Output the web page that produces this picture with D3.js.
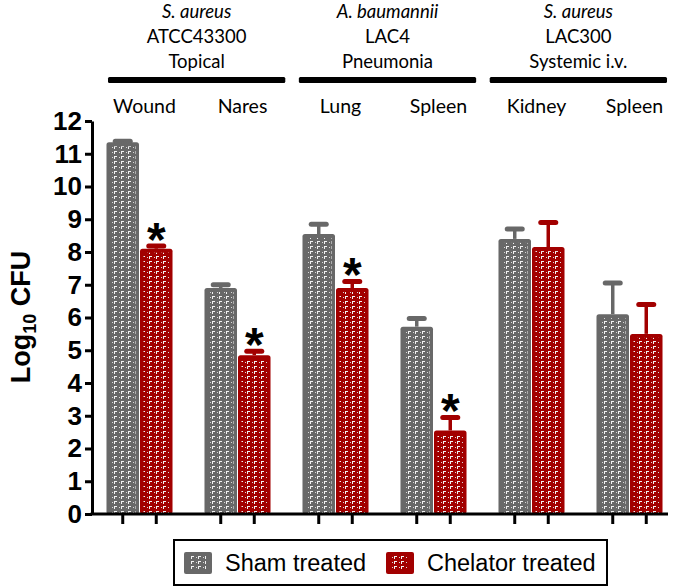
<!DOCTYPE html>
<html><head><meta charset="utf-8">
<script src="https://cdn.jsdelivr.net/npm/d3@7"></script>
<style>body{margin:0;background:#fff} svg{display:block}</style>
</head><body>
<svg id="chart" width="685" height="587"></svg>
<script>
const tissues = ["Wound", "Nares", "Lung", "Spleen", "Kidney", "Spleen"];
const shamValues = [11.35, 6.9, 8.55, 5.72, 8.4, 6.1];
const shamErrors = [0.03, 0.1, 0.3, 0.25, 0.3, 0.95];
const chelatorValues = [8.1, 4.85, 6.9, 2.55, 8.15, 5.5];
const chelatorErrors = [0.08, 0.12, 0.2, 0.4, 0.75, 0.9];
const significant = [true, true, true, true, false, false];
const groupOf = [0, 0, 1, 1, 2, 2];
const groupSpecies = ["S. aureus", "A. baumannii", "S. aureus"];
const groupStrain = ["ATCC43300", "LAC4", "LAC300"];
const groupModel = ["Topical", "Pneumonia", "Systemic i.v."];
const seriesNames = ["Sham treated", "Chelator treated"];
const yTicks = [0, 1, 2, 3, 4, 5, 6, 7, 8, 9, 10, 11, 12];

const colors = ["#686868", "#a20000"];
const svg = d3.select("#chart");

// patterns
const defs = svg.append("defs");
colors.forEach((c, i) => {
  const p = defs.append("pattern").attr("id", "pat" + i)
    .attr("patternUnits", "userSpaceOnUse").attr("width", 7).attr("height", 5);
  p.append("rect").attr("width", 7).attr("height", 5).attr("fill", c);
  p.append("rect").attr("x", 2).attr("y", 1).attr("width", 3).attr("height", 1).attr("fill", "#f2f2f2");
  p.append("rect").attr("x", 2).attr("y", 2).attr("width", 1).attr("height", 2).attr("fill", "#f2f2f2");
  p.append("rect").attr("x", 0).attr("y", 2).attr("width", 1).attr("height", 1).attr("fill", "#d8d8d8");
});

const y = d3.scaleLinear().domain([0, 12]).range([514, 121]);
const x0 = d3.scaleBand().domain(d3.range(tissues.length)).range([90.5, 678.5])
  .paddingInner(0.316).paddingOuter(0.158);
const x1 = d3.scaleBand().domain([0, 1]).range([0, x0.bandwidth()]);
const xg = d3.scaleBand().domain(d3.range(groupSpecies.length)).range([108, 667]).paddingInner(0.071);

const bars = [];
tissues.forEach((t, i) => {
  bars.push({i, s: 0, v: shamValues[i], e: shamErrors[i], sig: false});
  bars.push({i, s: 1, v: chelatorValues[i], e: chelatorErrors[i], sig: significant[i]});
});
const bx = d => x0(d.i) + x1(d.s);
const bw = x1.bandwidth();

// error bars
const eb = svg.append("g");
bars.forEach(d => {
  const cx = bx(d) + bw / 2;
  eb.append("line").attr("x1", cx).attr("x2", cx).attr("y1", y(d.v)).attr("y2", y(d.v + d.e))
    .attr("stroke", colors[d.s]).attr("stroke-width", 3.5);
  eb.append("rect").attr("x", cx - 10).attr("y", y(d.v + d.e) - 2.5).attr("width", 20).attr("height", 5)
    .attr("rx", 2.5).attr("fill", colors[d.s]);
});

// bars
const bg = svg.append("g");
bars.forEach(d => {
  bg.append("rect").attr("x", bx(d) + 0.5).attr("y", y(d.v)).attr("width", bw - 1)
    .attr("height", y(0) - y(d.v)).attr("rx", 2.5).attr("fill", colors[d.s]);
  bg.append("rect").attr("x", bx(d) + 4).attr("y", y(d.v) + 4).attr("width", bw - 8)
    .attr("height", Math.max(0, y(0) - y(d.v) - 5)).attr("fill", "url(#pat" + d.s + ")");
});

// asterisks
bars.filter(d => d.sig).forEach(d => {
  svg.append("text").attr("x", bx(d) + bw / 2).attr("y", y(d.v + d.e) - 17 + 27)
    .attr("text-anchor", "middle").attr("font-family", "Liberation Sans, Arial")
    .attr("font-weight", "bold").attr("font-size", 48).text("*");
});

// y axis
const yAxis = svg.append("g").attr("transform", "translate(92,0)")
  .call(d3.axisLeft(y).tickValues(yTicks).tickSize(7).tickSizeOuter(0).tickPadding(3));
yAxis.select(".domain").attr("stroke", "#000").attr("stroke-width", 3);
yAxis.selectAll(".tick line").attr("stroke", "#000").attr("stroke-width", 3);
yAxis.selectAll(".tick text").attr("font-family", "Liberation Sans, Arial")
  .attr("font-weight", "bold").attr("font-size", 26).attr("fill", "#000");

// x axis
svg.append("line").attr("x1", 90.5).attr("x2", 668).attr("y1", y(0)).attr("y2", y(0))
  .attr("stroke", "#000").attr("stroke-width", 3);
bars.forEach(d => {
  const cx = bx(d) + bw / 2;
  svg.append("line").attr("x1", cx).attr("x2", cx).attr("y1", y(0)).attr("y2", y(0) + 10)
    .attr("stroke", "#000").attr("stroke-width", 3);
});

// y label
const yl = svg.append("text").attr("transform", "translate(30,317) rotate(-90)")
  .attr("text-anchor", "middle").attr("font-family", "Liberation Sans, Arial")
  .attr("font-weight", "bold").attr("font-size", 27);
yl.append("tspan").text("Log");
yl.append("tspan").attr("font-size", 18).attr("dy", 6).text("10");
yl.append("tspan").attr("dy", -6).text(" CFU");

// header
const hf = "Lato, 'Open Sans', sans-serif";
groupSpecies.forEach((s, g) => {
  const cx = xg(g) + xg.bandwidth() / 2;
  svg.append("text").attr("x", cx).attr("y", 18).attr("text-anchor", "middle")
    .attr("font-family", hf).attr("font-style", "italic").attr("font-size", 18.5).text(s);
  svg.append("text").attr("x", cx).attr("y", 43).attr("text-anchor", "middle")
    .attr("font-family", hf).attr("font-size", 18.5).text(groupStrain[g]);
  svg.append("text").attr("x", cx).attr("y", 68).attr("text-anchor", "middle")
    .attr("font-family", hf).attr("font-size", 18.5).text(groupModel[g]);
  svg.append("rect").attr("x", xg(g)).attr("y", 77).attr("width", xg.bandwidth()).attr("height", 6)
    .attr("rx", 1.5).attr("fill", "#000");
});
tissues.forEach((t, i) => {
  svg.append("text").attr("x", x0(i) + x0.bandwidth() / 2 + 5).attr("y", 113).attr("text-anchor", "middle")
    .attr("font-family", hf).attr("font-size", 19.5).text(t);
});

// legend
const lg = svg.append("g");
lg.append("rect").attr("x", 174).attr("y", 540).attr("width", 433).attr("height", 45)
  .attr("fill", "#fff").attr("stroke", "#000").attr("stroke-width", 2);
const lx = [184, 386];
seriesNames.forEach((n, s) => {
  lg.append("rect").attr("x", lx[s]).attr("y", 552).attr("width", 28).attr("height", 22)
    .attr("rx", 2).attr("fill", colors[s]);
  lg.append("rect").attr("x", lx[s] + 6).attr("y", 556).attr("width", 16).attr("height", 14)
    .attr("fill", "url(#pat" + s + ")");
  lg.append("text").attr("x", lx[s] + 41).attr("y", 571).attr("font-family", "Liberation Sans, Arial")
    .attr("font-size", 23.5).text(n);
});
</script>
</body></html>
